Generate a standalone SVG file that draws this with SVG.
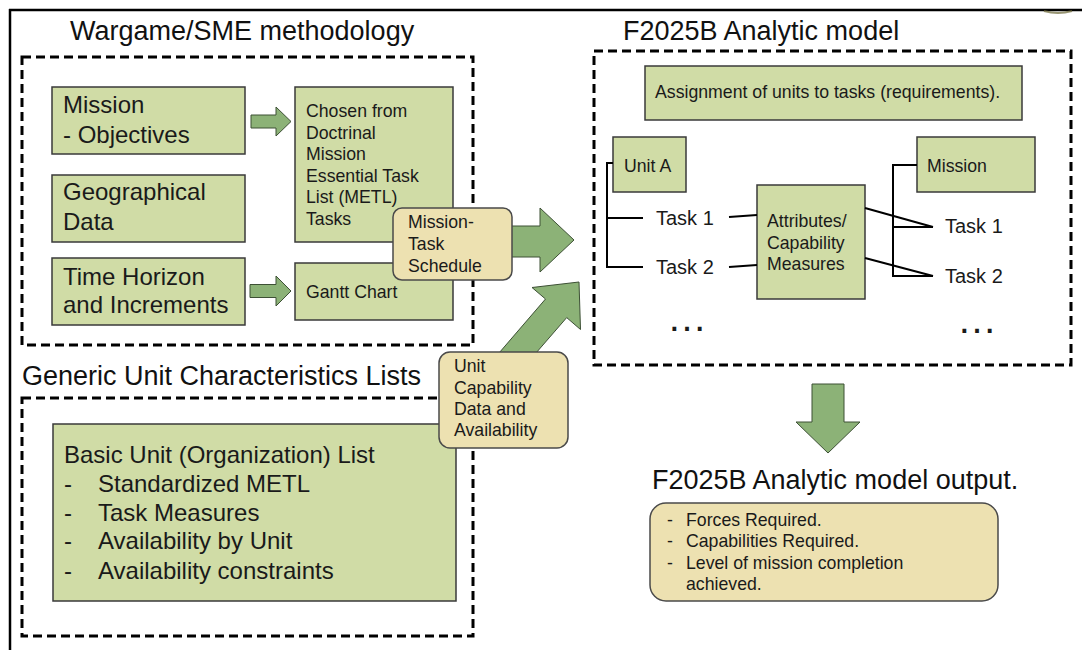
<svg xmlns="http://www.w3.org/2000/svg" width="1082" height="650" viewBox="0 0 1082 650">
<style>
text{font-family:"Liberation Sans",Arial,sans-serif;fill:#1a1a1a}
.t{font-size:27px;fill:#111}
.l{font-size:24px}
.s{font-size:17.7px}
.m{font-size:20px}
.g{fill:#d0dca6;stroke:#3a3a3a;stroke-width:1.5}
.b{fill:#ede1b1;stroke:#4a4a4a;stroke-width:1.5}
.d{fill:none;stroke:#000;stroke-width:3;stroke-dasharray:9 5}
.a{fill:#8cb277;stroke:#3d5035;stroke-width:1}
.c{fill:none;stroke:#000;stroke-width:2}
</style>
<rect width="1082" height="650" fill="#fff"/>
<g id="frame">
<path d="M9 10H1082M10 9V650" fill="none" stroke="#000" stroke-width="2.5"/>
<path d="M1044 11Q1058 15 1072 11" fill="none" stroke="#6c6838" stroke-width="2" opacity="0.7"/>
</g>
<g id="wargame">
<text class="t" x="70" y="40">Wargame/SME methodology</text>
<rect class="d" x="22" y="57" width="451" height="288"/>
</g>
<g id="mission">
<rect class="g" x="52" y="87" width="193" height="67"/>
<text class="l" x="63" y="113">Mission</text>
<text class="l" x="63" y="143">- Objectives</text>
</g>
<g id="geo">
<rect class="g" x="52" y="175" width="193" height="67"/>
<text class="l" x="63" y="200">Geographical</text>
<text class="l" x="63" y="230">Data</text>
</g>
<g id="time">
<rect class="g" x="52" y="258" width="193" height="67"/>
<text class="l" x="63" y="285">Time Horizon</text>
<text class="l" x="63" y="313">and Increments</text>
</g>
<g id="metl">
<rect class="g" x="295" y="87" width="158" height="155"/>
<text class="s" x="306" y="117">Chosen from</text>
<text class="s" x="306" y="138.5">Doctrinal</text>
<text class="s" x="306" y="160">Mission</text>
<text class="s" x="306" y="181.5">Essential Task</text>
<text class="s" x="306" y="203">List (METL)</text>
<text class="s" x="306" y="224.5">Tasks</text>
</g>
<g id="gantt">
<rect class="g" x="295" y="263" width="158" height="57"/>
<text class="s" x="306" y="298">Gantt Chart</text>
</g>
<g id="generic">
<text class="t" x="22" y="385">Generic Unit Characteristics Lists</text>
<rect class="d" x="22" y="398" width="451" height="238"/>
</g>
<g id="basic">
<rect class="g" x="53" y="424" width="403" height="177"/>
<text class="l" x="64" y="463">Basic Unit (Organization) List</text>
<text class="l" x="64" y="492">-</text><text class="l" x="98" y="492">Standardized METL</text>
<text class="l" x="64" y="521">-</text><text class="l" x="98" y="521">Task Measures</text>
<text class="l" x="64" y="549">-</text><text class="l" x="98" y="549">Availability by Unit</text>
<text class="l" x="64" y="579">-</text><text class="l" x="98" y="579">Availability constraints</text>
</g>
<g id="analytic">
<text class="t" x="623" y="40">F2025B Analytic model</text>
<rect class="d" x="594" y="51" width="477" height="314"/>
</g>
<g id="assignment">
<rect class="g" x="645" y="66" width="377" height="54"/>
<text class="s" x="655" y="98">Assignment of units to tasks (requirements).</text>
</g>
<g id="unitA">
<rect class="g" x="613" y="137" width="73" height="55"/>
<text class="s" x="624" y="172">Unit A</text>
</g>
<g id="missionR">
<rect class="g" x="917" y="137" width="118" height="55"/>
<text class="s" x="927" y="172">Mission</text>
</g>
<g id="attributes">
<rect class="g" x="757" y="185" width="108" height="114"/>
<text class="s" x="767" y="227">Attributes/</text>
<text class="s" x="767" y="248.5">Capability</text>
<text class="s" x="767" y="270">Measures</text>
</g>
<g id="tasksL">
<text class="m" x="656" y="225">Task 1</text>
<text class="m" x="656" y="274">Task 2</text>
<text x="667" y="331" style="font-size:40px">…</text>
</g>
<g id="tasksR">
<text class="m" x="945" y="233">Task 1</text>
<text class="m" x="945" y="283">Task 2</text>
<text x="957" y="333" style="font-size:40px">…</text>
</g>
<g id="connectors">
<path class="c" d="M613 163H607V267H643M607 218H643"/>
<path class="c" d="M729 217L757 215M729 267L757 265"/>
<path class="c" d="M917 165H893V276H933M893 227H933"/>
<path class="c" d="M865 208L933 227M865 258L933 276"/>
<polygon class="a" points="251,115 276,115 276,107 291,121.5 276,136 276,128 251,128"/>
<polygon class="a" points="250,284.5 276,284.5 276,276 291,291 276,306 276,297.5 250,297.5"/>
<polygon class="a" points="505,226 540,226 540,208 574,240 540,272 540,257 505,257"/>
<polygon class="a" points="493,360 545.5,299 532,287.5 579,282 580.5,329.5 566.7,317.6 514.3,378"/>
<polygon class="a" points="812,384 844,384 844,422 860,422 828,453 796,422 812,422"/>
</g>
<g id="schedule">
<rect class="b" x="393" y="208" width="119" height="72" rx="9"/>
<text class="s" x="408" y="228">Mission-</text>
<text class="s" x="408" y="250">Task</text>
<text class="s" x="408" y="272">Schedule</text>
</g>
<g id="unitcap">
<rect class="b" x="439" y="352" width="129" height="96" rx="11"/>
<text class="s" x="454" y="372">Unit</text>
<text class="s" x="454" y="393.5">Capability</text>
<text class="s" x="454" y="415">Data and</text>
<text class="s" x="454" y="436">Availability</text>
</g>
<g id="output">
<text class="t" x="652" y="489">F2025B Analytic model output.</text>
<rect class="b" x="650" y="503" width="348" height="98" rx="16"/>
<text class="s" x="667" y="526">-</text><text class="s" x="686" y="526">Forces Required.</text>
<text class="s" x="667" y="547">-</text><text class="s" x="686" y="547">Capabilities Required.</text>
<text class="s" x="667" y="569">-</text><text class="s" x="686" y="569">Level of mission completion</text>
<text class="s" x="686" y="590">achieved.</text>
</g>
</svg>
